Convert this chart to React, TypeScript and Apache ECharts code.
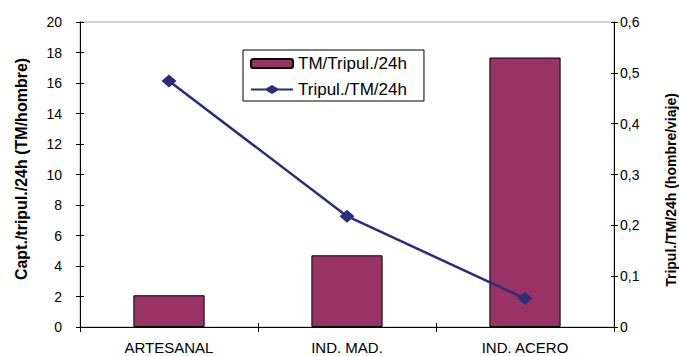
import React, { useEffect, useRef } from "react";
import * as echarts from "echarts";

// Catch per crew member per day (bars, left axis) and crew per ton per day (line, right axis)
const categories = ["ARTESANAL", "IND. MAD.", "IND. ACERO"];
const capturaPorTripulante = [2.08, 4.7, 17.67];
const tripulantesPorTonelada = [0.484, 0.218, 0.056];

const leftTitle = "Capt./tripul./24h (TM/hombre)";
const rightTitle = "Tripul./TM/24h (hombre/viaje)";
const barName = "TM/Tripul./24h";
const lineName = "Tripul./TM/24h";

const FONT = "'Liberation Sans', Arial, sans-serif";
const BAR_COLOR = "#993366";
const LINE_COLOR = "#2b2d7c";

// legend glyph for the line series: a thick stroke with a diamond in the middle
const LINE_ICON =
  "path://M0,3.5 L15,3.5 L21,0 L27,3.5 L42,3.5 L42,5.5 L27,5.5 L21,9 L15,5.5 L0,5.5 Z";

const fmtComma = (v: number) => (v === 0 ? "0" : v.toFixed(1).replace(".", ","));

export default function App() {
  const ref = useRef<HTMLDivElement>(null);

  useEffect(() => {
    if (!ref.current) return;
    const chart = echarts.init(ref.current, undefined, { renderer: "svg" });

    const grid = { left: 80, right: 65, top: 22, bottom: 29 };
    const tickLine = { color: "#000", width: 1 };

    chart.setOption({
      animation: false,
      backgroundColor: "#fff",
      textStyle: { fontFamily: FONT, color: "#000" },
      grid: { ...grid, show: true, borderColor: "#a6a6a6", borderWidth: 1 },
      legend: {
        orient: "vertical",
        left: 243,
        top: 50,
        padding: [5, 17, 3, 7],
        itemGap: 9,
        itemWidth: 42,
        itemHeight: 9,
        borderColor: "#000",
        borderWidth: 1,
        textStyle: { fontFamily: FONT, fontSize: 17, color: "#000" },
        data: [
          { name: barName },
          {
            name: lineName,
            icon: LINE_ICON,
            itemStyle: { color: LINE_COLOR, borderWidth: 0 },
          },
        ],
      },
      xAxis: [
        {
          type: "category",
          data: categories,
          position: "bottom",
          axisLine: { show: true, lineStyle: tickLine },
          axisTick: { show: true, length: 5, lineStyle: tickLine },
          axisLabel: { fontFamily: FONT, fontSize: 15, color: "#000", margin: 13 },
          splitLine: { show: false },
        },
        {
          // inner half of the crossing category ticks
          type: "category",
          data: categories,
          position: "bottom",
          axisLine: { show: false },
          axisTick: { show: true, inside: true, length: 4, lineStyle: tickLine },
          axisLabel: { show: false },
          splitLine: { show: false },
        },
      ],
      yAxis: [
        {
          type: "value",
          position: "left",
          min: 0,
          max: 20,
          interval: 2,
          axisLine: { show: true, lineStyle: tickLine },
          axisTick: { show: true, length: 4, lineStyle: tickLine },
          axisLabel: { fontFamily: FONT, fontSize: 14, color: "#000", margin: 18 },
          splitLine: { show: false },
        },
        {
          type: "value",
          position: "right",
          min: 0,
          max: 0.6,
          interval: 0.1,
          axisLine: { show: true, lineStyle: tickLine },
          axisTick: { show: true, length: 4, lineStyle: tickLine },
          axisLabel: {
            fontFamily: FONT,
            fontSize: 14,
            color: "#000",
            margin: 6,
            formatter: fmtComma,
          },
          splitLine: { show: false },
        },
        {
          type: "value",
          position: "left",
          min: 0,
          max: 20,
          interval: 2,
          axisLine: { show: false },
          axisTick: { show: true, inside: true, length: 4, lineStyle: tickLine },
          axisLabel: { show: false },
          splitLine: { show: false },
        },
        {
          type: "value",
          position: "right",
          min: 0,
          max: 0.6,
          interval: 0.1,
          axisLine: { show: false },
          axisTick: { show: true, inside: true, length: 3, lineStyle: tickLine },
          axisLabel: { show: false },
          splitLine: { show: false },
        },
      ],
      series: [
        {
          name: barName,
          type: "bar",
          xAxisIndex: 0,
          yAxisIndex: 0,
          data: capturaPorTripulante,
          barWidth: "40%",
          itemStyle: { color: BAR_COLOR, borderColor: "#000", borderWidth: 1 },
        },
        {
          name: lineName,
          type: "line",
          xAxisIndex: 0,
          yAxisIndex: 1,
          data: tripulantesPorTonelada,
          symbol: "diamond",
          symbolSize: [15, 13],
          lineStyle: { color: LINE_COLOR, width: 2.5 },
          itemStyle: { color: LINE_COLOR },
        },
      ],
      graphic: [
        {
          type: "text",
          x: 21,
          y: 169,
          rotation: Math.PI / 2,
          style: {
            text: leftTitle,
            font: `bold 16px ${FONT}`,
            fill: "#000",
            align: "center",
            verticalAlign: "middle",
            textAlign: "center",
            textVerticalAlign: "middle",
          },
        },
        {
          type: "text",
          x: 671,
          y: 190,
          rotation: Math.PI / 2,
          style: {
            text: rightTitle,
            font: `bold 14px ${FONT}`,
            fill: "#000",
            align: "center",
            verticalAlign: "middle",
            textAlign: "center",
            textVerticalAlign: "middle",
          },
        },
      ],
    });

    return () => chart.dispose();
  }, []);

  return (
    <div
      ref={ref}
      style={{ position: "fixed", left: 0, top: 0, width: 679, height: 356 }}
    />
  );
}
